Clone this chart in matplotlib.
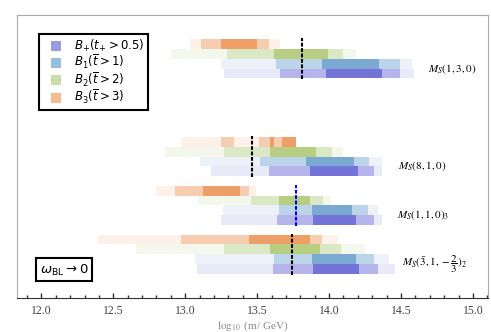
import matplotlib
matplotlib.use("Agg")
import matplotlib.pyplot as plt
from matplotlib.lines import Line2D
from matplotlib.ticker import MultipleLocator

# ---- data (log10 m/GeV intervals: outer / middle / core) ----
models = [r"$M_S(1,3,0)$", r"$M_S(8,1,0)$", r"$M_S(1,1,0)_3$",
          r"$M_S(\bar{3},1,-\dfrac{2}{3})_2$"]
row_base = [23, 13, 8, 3]

bplus_outer = [[(13.27, 14.59)], [(13.18, 14.37)], [(13.25, 14.37)], [(13.08, 14.46)]]
bplus_mid = [[(13.66, 14.49)], [(13.58, 14.31)], [(13.64, 14.31)], [(13.61, 14.34)]]
bplus_core = [[(13.98, 14.37)], [(13.87, 14.20)], [(13.89, 14.19)], [(13.89, 14.21)]]

b1_outer = [[(13.25, 14.58)], [(13.10, 14.37)], [(13.26, 14.34)], [(13.07, 14.42)]]
b1_mid = [[(13.63, 14.49)], [(13.52, 14.28)], [(13.65, 14.27)], [(13.62, 14.31)]]
b1_core = [[(13.95, 14.35)], [(13.84, 14.17)], [(13.88, 14.16)], [(13.88, 14.19)]]

b2_outer = [[(12.90, 14.19)], [(12.86, 14.10)], [(13.09, 14.01)], [(12.66, 14.25)]]
b2_mid = [[(13.29, 14.10)], [(13.27, 14.02)], [(13.46, 13.96)], [(13.27, 14.08)]]
b2_core = [[(13.62, 13.99)], [(13.59, 13.91)], [(13.65, 13.87)], [(13.59, 13.94)]]

b3_outer = [[(13.03, 13.66)], [(12.97, 13.77)], [(12.80, 13.49)], [(12.39, 14.06)]]
b3_mid = [[(13.11, 13.58)], [(13.25, 13.34), (13.51, 13.77)], [(12.93, 13.44)], [(12.97, 13.95)]]
b3_core = [[(13.25, 13.50)], [(13.59, 13.62), (13.67, 13.77)], [(13.12, 13.38)], [(13.44, 13.87)]]

central = [13.815, 13.467, 13.769, 13.739]
central_colors = ["black", "black", "blue", "black"]

legend_labels = [r"$B_{+}(t_{+} > 0.5)$", r"$B_1(\overline{t} > 1)$",
                 r"$B_2(\overline{t} > 2)$", r"$B_3(\overline{t} > 3)$"]

# ---- colours per series: outer, mid, core, legend ----
colors = {
    "bplus": ("#e9eaf8", "#b5b5ec", "#7373d8", "#9a9ae2"),
    "b1": ("#edf2fa", "#bcd4ea", "#7aaad2", "#97bde0"),
    "b2": ("#f3f7ec", "#dbe8c5", "#b7cd82", "#c9dcaa"),
    "b3": ("#fdf1e9", "#f7cdb1", "#ee9f68", "#f4b892"),
}

series = [
    ("bplus", 0, bplus_outer, bplus_mid, bplus_core),
    ("b1", 1, b1_outer, b1_mid, b1_core),
    ("b2", 2, b2_outer, b2_mid, b2_core),
    ("b3", 3, b3_outer, b3_mid, b3_core),
]

fig = plt.figure(figsize=(4.91, 3.32), dpi=100)
ax = fig.add_axes([0.0346, 0.1024, 0.9593, 0.8524])

for key, offset, outer, mid, core in series:
    c_out, c_mid, c_core, _ = colors[key]
    for i, base in enumerate(row_base):
        y = base + offset
        for level, col in ((outer, c_out), (mid, c_mid), (core, c_core)):
            for lo, hi in level[i]:
                ax.barh(y, hi - lo, left=lo, height=1.0, color=col, linewidth=0)

for i, base in enumerate(row_base):
    ax.plot([central[i], central[i]], [base - 0.6, base + 3.6],
            color=central_colors[i], lw=1.5, dashes=(1.8, 0.8))

label_x = [14.69, 14.48, 14.47, 14.505]
for i, base in enumerate(row_base):
    ax.text(label_x[i], base + 0.5, models[i], fontsize=8, va="center",
            ha="left", math_fontfamily="stix")

handles = [Line2D([], [], ls="none", marker="s", markersize=6.5,
                  markerfacecolor=colors[k][3], markeredgewidth=0)
           for k in ("bplus", "b1", "b2", "b3")]
leg = ax.legend(handles, legend_labels, loc="upper left",
                bbox_to_anchor=(0.047, 0.933), borderaxespad=0,
                fontsize=8.5, handlelength=2.3, handletextpad=0.3,
                labelspacing=-0.05, borderpad=0.32,
                fancybox=False, framealpha=1, edgecolor="black")
leg.get_frame().set_linewidth(1.5)

ax.text(0.1, 0.099, r"$\omega_{\rm BL} \rightarrow 0$", transform=ax.transAxes,
        fontsize=9.5, ha="center", va="center",
        bbox=dict(boxstyle="square,pad=0.3", facecolor="white",
                  edgecolor="black", linewidth=1.5))

ax.set_xlim(11.83, 15.105)
ax.set_ylim(0, 29)
ax.xaxis.set_major_locator(MultipleLocator(0.5))
ax.xaxis.set_minor_locator(MultipleLocator(0.1))
ax.set_yticks([])
ax.tick_params(axis="x", which="major", direction="in", length=3.5, width=1,
               color="#333333", labelsize=8.5, labelcolor="#444444", pad=5)
ax.tick_params(axis="x", which="minor", direction="in", length=2, width=1,
               color="#333333")
for lab in ax.get_xticklabels():
    lab.set_fontfamily("Liberation Serif")

ax.set_xlabel(r"$\log_{10}$ (m/ GeV)", fontsize=8, color="#888888",
              family="Liberation Serif", math_fontfamily="stix", labelpad=2)

for side in ("left", "top", "right"):
    ax.spines[side].set_color("#aaaaaa")
    ax.spines[side].set_linewidth(0.8)
ax.spines["bottom"].set_color("#333333")
ax.spines["bottom"].set_linewidth(0.8)

fig.savefig("out.png", dpi=100)
